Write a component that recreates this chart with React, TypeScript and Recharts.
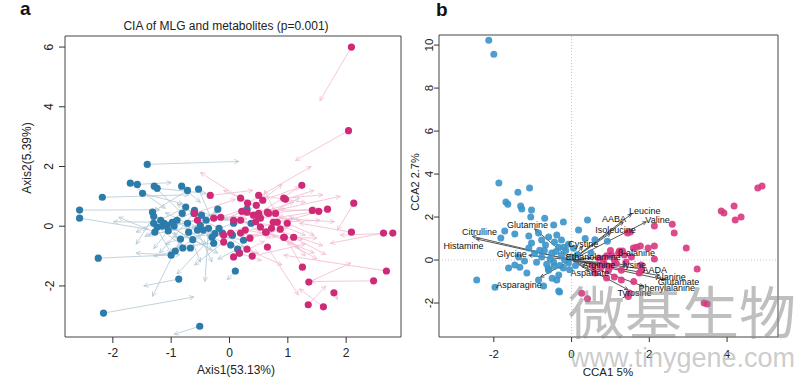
import React from 'react';
import { ScatterChart, Scatter, XAxis, YAxis, ReferenceLine, ReferenceArea } from 'recharts';

const FONT = '"Liberation Sans", Arial, Helvetica, sans-serif';

// ---------- Panel a (CIA) ----------
const xTicksA = [-2, -1, 0, 1, 2];
const yTicksA = [-2, 0, 2, 4, 6];

// [x, y, arrowEndX, arrowEndY]
const blueAraw: number[][] = [
  [-2.57, 0.54, -1.2, 0.55], [-2.57, 0.27, -1.4, -0.1], [-2.18, 0.97, -0.7, 1.05], [-2.25, -1.07, -0.85, -0.95],
  [-2.16, -2.91, -0.61, -2.37], [-0.87, -1.77, -1.47, -2.0], [-0.51, -3.35, -0.95, -3.62], [0.1, -1.5, -0.04, -1.8],
  [-1.41, 2.07, 0.16, 2.17], [-1.7, 1.44, -1.1, 0.6], [-1.58, 1.4, -1.0, 1.46], [-1.29, 1.34, -0.8, 0.4],
  [-0.82, 1.34, -0.5, 0.8], [-0.53, 1.24, -0.3, 0.2], [-0.72, 1.2, -1.3, 0.5], [-1.49, 1.1, -0.8, 0.75],
  [-1.24, 1.27, -0.4, 1.1], [-1.32, 0.47, -0.9, -0.4], [-1.3, 0.33, -1.6, -0.6], [-1.3, 0.1, -1.0, -0.9],
  [-1.12, 0.1, -0.3, -0.8], [-1.07, 0.03, -0.6, 0.5], [-0.98, 0.13, -1.99, 0.15], [-0.9, 0.2, -0.4, -0.6],
  [-0.81, 0.43, -1.45, -0.35], [-0.6, 0.53, 0.2, 0.1], [-0.61, 0.43, -1.2, -0.9], [-0.75, 0.64, -1.6, -0.2],
  [-0.48, 0.37, -0.25, -0.5], [-0.2, 0.57, -0.65, -0.1], [-0.84, -0.43, -1.32, -2.35], [-0.8, -0.73, -0.95, -0.2],
  [-0.67, -0.73, -1.3, -1.0], [-0.93, -0.83, -0.5, -0.3], [-1.0, -0.97, -1.6, -0.9], [-0.7, -0.2, -0.5, -1.2],
  [-0.55, -0.13, -0.3, -1.2], [-0.45, -0.13, -1.1, -0.6], [-0.36, -0.07, -0.42, -1.85], [-0.3, -0.37, -0.75, 0.2],
  [-0.27, -0.57, -0.9, -0.7], [-0.18, -0.07, -0.6, 0.35], [-0.12, -0.23, 0.25, -0.7], [0.02, -0.63, -0.4, -0.3],
  [0.14, -0.77, -0.2, -1.1], [0.17, -0.9, 0.0, -0.5], [0.24, -0.47, -0.35, -0.25], [0.37, 0.1, -0.2, 0.3],
  [-0.5, 0.03, -1.4, -0.3], [-0.72, 0.1, -1.1, 0.45], [-1.18, 0.2, -0.7, -0.4], [-1.24, -0.03, -0.8, -0.65],
  [0.07, 0.1, -0.5, -0.3], [0.3, 0.57, -0.1, 0.2], [-1.05, -0.15, -1.3, -0.75], [-1.15, 0.0, -0.5, 0.2],
  [-1.28, -0.2, -1.9, 0.3], [-0.95, 0.0, -0.2, 0.45], [-0.63, -0.45, -0.2, -0.9], [-0.4, 0.2, -0.9, 0.75],
  [0.05, -0.3, -0.6, -1.3], [-0.25, -0.25, -0.9, -1.6],
];

const pinkAraw: number[][] = [
  [2.09, 6.0, 1.55, 4.2], [2.04, 3.2, 1.13, 2.2], [1.24, 1.37, 0.45, 0.35], [-0.33, 1.03, 0.4, 1.2],
  [0.19, 0.94, -0.5, 1.8], [0.5, 1.03, 1.3, 0.8], [0.93, 0.94, 1.6, 1.05], [0.31, 0.77, 1.4, 2.0],
  [0.46, 0.7, -0.1, 1.2], [0.21, 0.5, 1.2, 0.2], [0.3, 0.47, 0.9, 1.4], [0.41, 0.37, 1.5, 0.6],
  [0.65, 0.47, 1.9, 1.0], [1.42, 0.53, 0.7, 0.55], [1.53, 0.5, 0.85, 0.3], [1.68, 0.57, 1.0, 0.2],
  [2.13, 0.77, 1.85, -0.13], [2.09, -0.2, 1.2, 0.1], [2.64, -0.23, 1.73, -0.57], [2.8, -0.23, 1.9, -0.3],
  [1.25, -1.37, 1.0, -0.5], [1.36, -1.87, 2.08, -1.23], [2.47, -1.83, 1.4, -1.85], [2.69, -1.5, 0.93, -0.97],
  [1.79, -2.23, 1.85, -2.45], [1.35, -2.63, 1.65, -2.0], [1.61, -2.7, 1.2, -2.1], [0.65, -0.7, 1.18, -2.3],
  [0.3, -0.77, 0.9, -1.3], [0.39, -1.0, 1.3, -0.6], [0.07, -1.03, 0.6, -0.5], [0.02, -0.23, 0.8, -0.35],
  [-0.1, -0.53, 0.5, -0.9], [0.19, -0.23, 1.1, 0.3], [0.27, -0.13, 1.25, -0.45], [0.53, -0.03, 1.5, -1.1],
  [0.62, -0.2, 1.45, -0.9], [0.75, 0.13, 1.3, -0.3], [0.82, 0.13, 1.55, 0.2], [0.99, 0.1, 1.45, -0.3],
  [0.93, -0.37, 1.5, -0.4], [1.1, -0.37, 1.65, -0.95], [0.53, 0.27, 1.2, 0.95], [0.72, -0.07, 1.6, -0.65],
  [-0.27, 0.27, 0.6, 0.4], [-0.15, 0.3, 0.3, 0.6], [0.07, 0.2, 0.9, 0.0], [0.19, 0.2, 0.7, -0.4],
  [0.5, 0.43, 1.1, 0.8], [0.79, 0.43, 0.6, 1.2], [0.96, 0.9, 1.45, 1.2], [0.57, 0.87, 1.2, 1.3],
  [0.67, 0.43, 0.2, 0.9], [0.5, 0.3, 1.8, 0.15], [0.87, -0.1, 1.3, -1.0], [0.63, -0.2, 0.2, -0.4],
  [0.94, -0.37, 1.2, -0.75], [0.17, -0.9, 0.55, -1.15], [-0.6, 0.43, 0.1, 0.9], [-0.55, 0.2, 0.3, 0.25],
  [-0.1, -0.3, 0.45, 0.1], [0.35, -0.4, 1.0, -0.05], [0.45, 0.15, 0.95, 0.6],
];

// ---------- Panel b (CCA) ----------
const xTicksB = [-2, 0, 2, 4];
const yTicksB = [-2, 0, 2, 4, 6, 8, 10];

const blueBraw: number[][] = [
  [-2.13, 10.23], [-2.0, 9.58], [-1.87, 3.58], [-1.38, 3.16], [-1.08, 3.35], [-1.69, 2.7], [-1.64, 2.6],
  [-1.31, 2.51], [-1.28, 2.37], [-1.03, 2.33], [-1.05, 2.0], [-0.69, 1.95], [-0.46, 1.63], [-0.21, 1.77],
  [0.41, 1.86], [0.18, 1.4], [-1.72, 1.35], [-1.46, 1.21], [-1.82, 1.02], [-1.1, 1.12], [-0.85, 1.26],
  [-0.77, 0.93], [-0.59, 1.07], [-0.38, 1.16], [-0.26, 0.93], [-0.44, 0.84], [-0.33, 0.6], [-0.08, 0.74],
  [-0.67, 0.7], [-1.03, 0.79], [-1.1, 0.56], [-0.82, 0.46], [-0.77, 0.14], [-0.51, 0.33], [-0.26, 0.23],
  [-0.46, -0.1], [-0.18, 0.0], [0.0, 0.14], [-1.21, -0.05], [-1.36, 0.14], [-1.46, -0.23], [-1.62, -0.37],
  [-2.44, -0.93], [-1.97, -1.26], [-0.85, -0.93], [-0.72, -1.21], [-0.33, -1.44], [-0.38, -0.93], [-0.33, -0.7],
  [-1.33, -0.33], [-0.59, -0.47], [-0.08, -0.14], [-0.21, -0.37], [-0.31, -1.49], [-0.9, -0.1], [-0.64, -0.2],
  [-0.95, 0.3], [-0.7, 0.45], [-0.55, 0.05], [-0.4, 0.4], [-0.15, 0.45], [-0.3, -0.25], [-0.05, -0.45],
  [0.15, 0.25], [0.35, 1.0], [0.6, 0.95], [-1.15, -0.6], [-0.5, -0.85], [-0.45, -0.3], [0.1, -0.25],
  [-0.6, -0.4], [-0.2, 0.6], [0.05, 0.55], [0.92, 0.88], [0.5, 0.33],
];

const pinkBraw: number[][] = [
  [4.79, 3.35], [4.9, 3.44], [3.85, 2.28], [3.92, 2.19], [4.18, 2.51], [4.21, 1.86], [4.36, 2.0],
  [2.59, 1.67], [2.64, 1.26], [2.13, 1.58], [2.95, 0.56], [1.44, 1.26], [1.51, 1.3], [2.13, 0.65],
  [1.97, 0.56], [1.77, 0.65], [1.67, 0.6], [1.59, 0.56], [2.13, 0.05], [3.23, -0.42], [1.31, 0.42],
  [1.21, 0.33], [1.36, 0.23], [3.41, -2.0], [3.49, -2.05], [0.26, -1.55], [0.41, -1.8], [1.46, -1.7],
  [1.49, -1.53], [0.9, -0.84], [1.1, -0.79], [1.28, -0.47], [0.95, -0.47], [1.74, -0.6], [0.85, -0.23],
  [1.79, -0.23], [1.28, -0.93], [1.23, 0.42], [1.03, 0.23], [1.1, 0.0], [1.54, 0.14], [1.8, -0.47],
  [0.82, -0.05], [0.7, 0.1], [1.0, -0.3], [0.6, -0.6], [0.75, -0.35], [1.15, -0.15], [1.0, 0.45],
  [0.9, 0.2], [1.4, -0.1], [0.55, -0.3], [1.6, -1.0],
];

const vectorNames = ['Leucine', 'AABA', 'Valine', 'Isoleucine', 'Cystine', 'Ethanolamine', 'β-alanine', 'Arginine',
  'lysine', 'AADA', 'Alanine', 'Glutamate', 'Phenylalanine', 'Tyrosine', 'Aspartate', 'Asparagine', 'Glycine',
  'Histamine', 'Citrulline', 'Glutamine'];
const vectorTips: number[][] = [
  [1.54, 2.14], [1.33, 1.77], [1.92, 1.78], [1.0, 1.25], [0.28, 0.62], [0.5, 0.1], [1.45, 0.27], [0.6, -0.2],
  [1.4, -0.22], [1.85, -0.42], [2.25, -0.72], [2.4, -0.92], [1.85, -1.22], [1.45, -1.38], [0.45, -0.5],
  [-0.8, -0.8], [-1.1, 0.22], [-2.45, 0.98], [-2.55, 1.1], [-0.95, 1.45],
];
const vectorLabels: number[][] = [
  [1.88, 2.29], [1.09, 1.89], [2.21, 1.86], [1.13, 1.4], [0.3, 0.73], [0.56, 0.12], [1.67, 0.31], [0.7, -0.25],
  [1.62, -0.25], [2.14, -0.47], [2.55, -0.78], [2.75, -1.02], [2.45, -1.3], [1.62, -1.55], [0.47, -0.59],
  [-1.35, -1.15], [-1.54, 0.28], [-2.78, 0.67], [-2.37, 1.29], [-1.13, 1.63],
];

const blueA = blueAraw.map(([x, y, ex, ey]) => ({ x, y, ex, ey }));
const pinkA = pinkAraw.map(([x, y, ex, ey]) => ({ x, y, ex, ey }));
const blueB = blueBraw.map(([x, y]) => ({ x, y }));
const pinkB = pinkBraw.map(([x, y]) => ({ x, y }));
const labelsB = vectorNames.map((name, i) => ({ name, x: vectorLabels[i][0], y: vectorLabels[i][1] }));

const makeArrow = (color: string, head: number, width: number) => (p: any) => {
  const x1 = Number(p.x1), y1 = Number(p.y1), x2 = Number(p.x2), y2 = Number(p.y2);
  const ang = Math.atan2(y2 - y1, x2 - x1);
  const a1 = ang + Math.PI - 0.45;
  const a2 = ang + Math.PI + 0.45;
  return (
    <g>
      <line x1={x1} y1={y1} x2={x2} y2={y2} stroke={color} strokeWidth={width} />
      <polyline
        points={`${x2 + head * Math.cos(a1)},${y2 + head * Math.sin(a1)} ${x2},${y2} ${x2 + head * Math.cos(a2)},${y2 + head * Math.sin(a2)}`}
        fill="none" stroke={color} strokeWidth={width} />
    </g>
  );
};

const dot = (color: string, r: number, op = 1) => (p: any) => (
  <circle cx={p.cx} cy={p.cy} r={r} fill={color} fillOpacity={op} />
);

const makeXTick = (fs: number) => (p: any) => (
  <text x={p.x} y={p.y} dy="0.71em" textAnchor="middle" fontSize={fs} fill="#222" fontFamily={FONT}>
    {p.payload.value}
  </text>
);
const makeYTick = (fs: number) => (p: any) => (
  <text x={p.x} y={p.y} textAnchor="middle" transform={`rotate(-90 ${p.x} ${p.y})`} fontSize={fs} fill="#222" fontFamily={FONT}>
    {p.payload.value}
  </text>
);

const blueArrow = makeArrow('#b3c6d3', 5, 0.8);
const pinkArrow = makeArrow('#f3b9d0', 5, 0.8);
const vecArrow = makeArrow('#555555', 4, 1);

const labelShape = (p: any) => (
  <text x={p.cx} y={p.cy} textAnchor="middle" dominantBaseline="central" fontSize={9} fill="#111" fontFamily={FONT}>
    {p.payload.name}
  </text>
);

const domXA: [number, number] = [-2.82, 2.94];
const domYA: [number, number] = [-3.71, 6.37];
const domXB: [number, number] = [-3.41, 5.31];
const domYB: [number, number] = [-3.58, 10.47];

export default function App() {
  return (
    <div style={{ position: 'absolute', left: 0, top: 0, width: 800, height: 378, background: '#fff', overflow: 'hidden' }}>
      <div style={{ position: 'absolute', left: 0, top: 0 }}>
        <ScatterChart width={420} height={378} margin={{ top: 36, right: 19, bottom: 11, left: 35 }}>
          <XAxis type="number" dataKey="x" domain={domXA} ticks={xTicksA} allowDataOverflow interval={0}
            axisLine={false} tickLine={{ stroke: '#333' }} tickSize={6} tickMargin={5} height={30} tick={makeXTick(12)} />
          <YAxis type="number" dataKey="y" domain={domYA} ticks={yTicksA} allowDataOverflow interval={0}
            axisLine={false} tickLine={{ stroke: '#333' }} tickSize={6} tickMargin={5.5} width={30} tick={makeYTick(12)} />
          <ReferenceArea x1={domXA[0]} x2={domXA[1]} y1={domYA[0]} y2={domYA[1]} fill="none" stroke="#444" strokeWidth={1} ifOverflow="visible" />
          {blueA.map((d, i) => (
            <ReferenceLine key={'ba' + i} segment={[{ x: d.x, y: d.y }, { x: d.ex, y: d.ey }]} ifOverflow="visible" shape={blueArrow} />
          ))}
          {pinkA.map((d, i) => (
            <ReferenceLine key={'pa' + i} segment={[{ x: d.x, y: d.y }, { x: d.ex, y: d.ey }]} ifOverflow="visible" shape={pinkArrow} />
          ))}
          <Scatter data={blueA} shape={dot('#2b7bab', 3.6)} isAnimationActive={false} />
          <Scatter data={pinkA} shape={dot('#cf2a78', 3.6)} isAnimationActive={false} />
        </ScatterChart>
      </div>

      <div style={{ position: 'absolute', left: 400, top: 0 }}>
        <ScatterChart width={400} height={378} margin={{ top: 35, right: 22, bottom: 11, left: 9 }}>
          <XAxis type="number" dataKey="x" domain={domXB} ticks={xTicksB} allowDataOverflow interval={0}
            axisLine={false} tickLine={{ stroke: '#333' }} tickSize={5} tickMargin={8} height={30} tick={makeXTick(11.5)} />
          <YAxis type="number" dataKey="y" domain={domYB} ticks={yTicksB} allowDataOverflow interval={0}
            axisLine={false} tickLine={{ stroke: '#333' }} tickSize={5} tickMargin={0.5} width={30} tick={makeYTick(11.5)} />
          <ReferenceLine x={0} stroke="#c8c8c8" strokeDasharray="1 2" />
          <ReferenceLine y={0} stroke="#c8c8c8" strokeDasharray="1 2" />
          <ReferenceArea x1={domXB[0]} x2={domXB[1]} y1={domYB[0]} y2={domYB[1]} fill="none" stroke="#444" strokeWidth={1} ifOverflow="visible" />
          <Scatter data={blueB} shape={dot('#3a93c9', 3.5, 0.9)} isAnimationActive={false} />
          <Scatter data={pinkB} shape={dot('#d8387f', 3.5, 0.9)} isAnimationActive={false} />
          {vectorTips.map((t, i) => (
            <ReferenceLine key={'v' + i} segment={[{ x: 0, y: 0 }, { x: t[0], y: t[1] }]} ifOverflow="visible" shape={vecArrow} />
          ))}
          <Scatter data={labelsB} shape={labelShape} isAnimationActive={false} />
        </ScatterChart>
      </div>

      <svg width={800} height={378} style={{ position: 'absolute', left: 0, top: 0, pointerEvents: 'none' }} fontFamily={FONT}>
        <text x={20} y={15} fontSize={19} fontWeight="bold" fill="#111">a</text>
        <text x={436} y={16} fontSize={19} fontWeight="bold" fill="#111">b</text>
        <text x={226} y={30} fontSize={12} textAnchor="middle" fill="#222">CIA of MLG and metabolites (p=0.001)</text>
        <text x={236} y={374} fontSize={12} textAnchor="middle" fill="#222">Axis1(53.13%)</text>
        <text x={31} y={158} fontSize={12} textAnchor="middle" fill="#222" transform="rotate(-90 31 158)">Axis2(5.39%)</text>
        <text x={608} y={376} fontSize={11.5} textAnchor="middle" fill="#222">CCA1 5%</text>
        <text x={419} y={182} fontSize={11} textAnchor="middle" fill="#222" transform="rotate(-90 419 182)">CCA2 2.7%</text>
        <text x={568} y={334} fontSize={57} fill="#8a8a8a" fillOpacity={0.55} fontFamily='"Noto Sans CJK SC", sans-serif'>微基生物</text>
        <text x={570} y={367} fontSize={27} fill="#a0a0a0" fillOpacity={0.55}>www.tinygene.com</text>
      </svg>
    </div>
  );
}
